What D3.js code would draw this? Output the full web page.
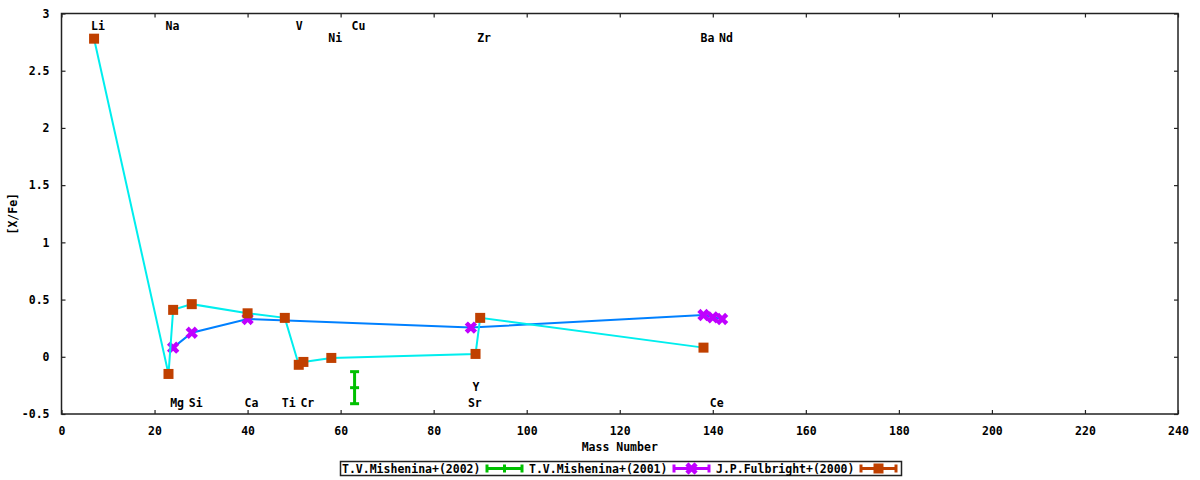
<!DOCTYPE html>
<html>
<head>
<meta charset="utf-8">
<script src="https://cdn.jsdelivr.net/npm/d3@7"></script>
<style>
  body { margin: 0; background: #fff; }
  svg { display: block; }
  text { font-family: "DejaVu Sans Mono", "Liberation Mono", monospace; font-weight: bold; fill: #000; }
</style>
</head>
<body>
<svg id="chart" width="1200" height="480"></svg>
<script>
// ---- data ----
const fulbrightMass = [7, 23, 24, 28, 40, 48, 51, 52, 58, 89, 90, 138];
const fulbrightVal  = [2.78, -0.15, 0.41, 0.46, 0.38, 0.34, -0.07, -0.045, -0.01, 0.025, 0.34, 0.08];

const mish2001Mass = [24, 28, 40, 88, 138, 140, 142];
const mish2001Val  = [0.08, 0.21, 0.33, 0.255, 0.365, 0.345, 0.33];

const mish2002Mass = [63];
const mish2002Val  = [-0.27];
const mish2002Err  = [0.14];

const elemNames = ["Li", "Na", "V", "Cu", "Ni", "Zr", "Ba", "Nd", "Mg", "Si", "Ca", "Ti", "Cr", "Sr", "Ce", "Y"];
const elemMass  = [7, 23, 51, 63, 58, 90, 138, 142, 24, 28, 40, 48, 52, 88, 140, 89];
const elemY     = [2.89, 2.89, 2.89, 2.89, 2.79, 2.79, 2.79, 2.79, -0.405, -0.405, -0.405, -0.405, -0.405, -0.405, -0.405, -0.262];

const xTicks = [0, 20, 40, 60, 80, 100, 120, 140, 160, 180, 200, 220, 240];
const yTicks = [-0.5, 0, 0.5, 1, 1.5, 2, 2.5, 3];

const legendNames = ["T.V.Mishenina+(2002)", "T.V.Mishenina+(2001)", "J.P.Fulbright+(2000)"];

// ---- layout ----
const svg = d3.select("#chart");
const L = 61.5, R = 1178, T = 13.5, B = 414;
const x = d3.scaleLinear().domain([0, 240]).range([L, R]);
const y = d3.scaleLinear().domain([-0.5, 3]).range([B, T]);
const FS = "11.5px";

const cGreen = "#00c000", cBlue = "#0080ff", cMag = "#c000ff", cCyan = "#00eeee", cBrown = "#c04000";

// axes
const gB = svg.append("g").attr("transform", `translate(0,${B})`)
  .call(d3.axisBottom(x).tickValues(xTicks).tickSize(-4).tickPadding(13).tickFormat(d3.format("d")));
const gT = svg.append("g").attr("transform", `translate(0,${T})`)
  .call(d3.axisTop(x).tickValues(xTicks).tickSize(-4).tickFormat(""));
const gL = svg.append("g").attr("transform", `translate(${L},0)`)
  .call(d3.axisLeft(y).tickValues(yTicks).tickSize(-4).tickPadding(12).tickFormat(d => String(d)));
const gR = svg.append("g").attr("transform", `translate(${R},0)`)
  .call(d3.axisRight(y).tickValues(yTicks).tickSize(-4).tickFormat(""));
[gB, gT, gL, gR].forEach(g => {
  g.select(".domain").remove();
  g.selectAll(".tick line").attr("stroke", "#222").attr("stroke-width", 1.2);
  g.selectAll("text").style("font-size", FS).attr("font-family", null);
});

svg.append("rect").attr("x", L).attr("y", T).attr("width", R - L).attr("height", B - T)
  .attr("fill", "none").attr("stroke", "#222").attr("stroke-width", 1.5);

// axis titles
svg.append("text").attr("x", (L + R) / 2).attr("y", 451).attr("text-anchor", "middle")
  .style("font-size", FS).text("Mass Number");
svg.append("text").attr("transform", `translate(17,${(T + B) / 2}) rotate(-90)`).attr("text-anchor", "middle")
  .style("font-size", FS).text("[X/Fe]");

// element labels
svg.append("g").selectAll("text").data(elemNames).join("text")
  .attr("x", (d, i) => x(elemMass[i]) - 3)
  .attr("y", (d, i) => y(elemY[i]))
  .attr("dy", "0.36em")
  .style("font-size", FS)
  .text(d => d);

// marker helpers
function xMark(g, cx, cy, s, color) {
  g.append("path")
    .attr("d", `M${cx - s},${cy - s}L${cx + s},${cy + s}M${cx - s},${cy + s}L${cx + s},${cy - s}`)
    .attr("stroke", color).attr("stroke-width", 4.5).attr("stroke-linecap", "square").attr("fill", "none");
}
function sqMark(g, cx, cy, s, color) {
  g.append("rect").attr("x", cx - s).attr("y", cy - s).attr("width", 2 * s).attr("height", 2 * s).attr("fill", color);
}

// Series 1: Mishenina 2002 (error bar)
const g1 = svg.append("g");
mish2002Mass.forEach((m, i) => {
  const cx = x(m), v = mish2002Val[i], e = mish2002Err[i];
  g1.append("line").attr("x1", cx).attr("x2", cx).attr("y1", y(v + e)).attr("y2", y(v - e))
    .attr("stroke", cGreen).attr("stroke-width", 3);
  [v + e, v - e].forEach(t => g1.append("line").attr("x1", cx - 4.5).attr("x2", cx + 4.5)
    .attr("y1", y(t)).attr("y2", y(t)).attr("stroke", cGreen).attr("stroke-width", 3));
  g1.append("line").attr("x1", cx - 4.5).attr("x2", cx + 4.5).attr("y1", y(v)).attr("y2", y(v))
    .attr("stroke", cGreen).attr("stroke-width", 3);
});

// Series 2: Mishenina 2001
const line = d3.line().x(d => x(d[0])).y(d => y(d[1]));
const s2 = mish2001Mass.map((m, i) => [m, mish2001Val[i]]);
svg.append("path").attr("d", line(s2)).attr("fill", "none").attr("stroke", cBlue).attr("stroke-width", 2);
const g2 = svg.append("g");
s2.forEach(d => xMark(g2, x(d[0]), y(d[1]), 3, cMag));

// Series 3: Fulbright 2000
const s3 = fulbrightMass.map((m, i) => [m, fulbrightVal[i]]);
svg.append("path").attr("d", line(s3)).attr("fill", "none").attr("stroke", cCyan).attr("stroke-width", 2);
const g3 = svg.append("g");
s3.forEach(d => sqMark(g3, x(d[0]), y(d[1]), 5, cBrown));

// Legend
const lg = svg.append("g");
lg.append("rect").attr("x", 340.5).attr("y", 461.5).attr("width", 561).attr("height", 14)
  .attr("fill", "#fff").attr("stroke", "#222").attr("stroke-width", 1.5);
const legColors = [cGreen, cMag, cBrown];
const entryStart = [342, 529, 716];
legendNames.forEach((name, i) => {
  const x0 = entryStart[i];
  lg.append("text").attr("x", x0).attr("y", 468.5).attr("dy", "0.36em").style("font-size", FS).text(name);
  const sx0 = x0 + 145, sx1 = sx0 + 35, cy = 468.5, col = legColors[i];
  lg.append("line").attr("x1", sx0).attr("x2", sx1).attr("y1", cy).attr("y2", cy).attr("stroke", col).attr("stroke-width", 3);
  [sx0, sx1].forEach(sx => lg.append("line").attr("x1", sx).attr("x2", sx).attr("y1", cy - 4).attr("y2", cy + 4)
    .attr("stroke", col).attr("stroke-width", 3));
  const mx = (sx0 + sx1) / 2;
  if (i === 0) {
    lg.append("line").attr("x1", mx).attr("x2", mx).attr("y1", cy - 4).attr("y2", cy + 4).attr("stroke", col).attr("stroke-width", 3);
  } else if (i === 1) {
    xMark(lg, mx, cy, 3, col);
  } else {
    sqMark(lg, mx, cy, 5, col);
  }
});
</script>
</body>
</html>
